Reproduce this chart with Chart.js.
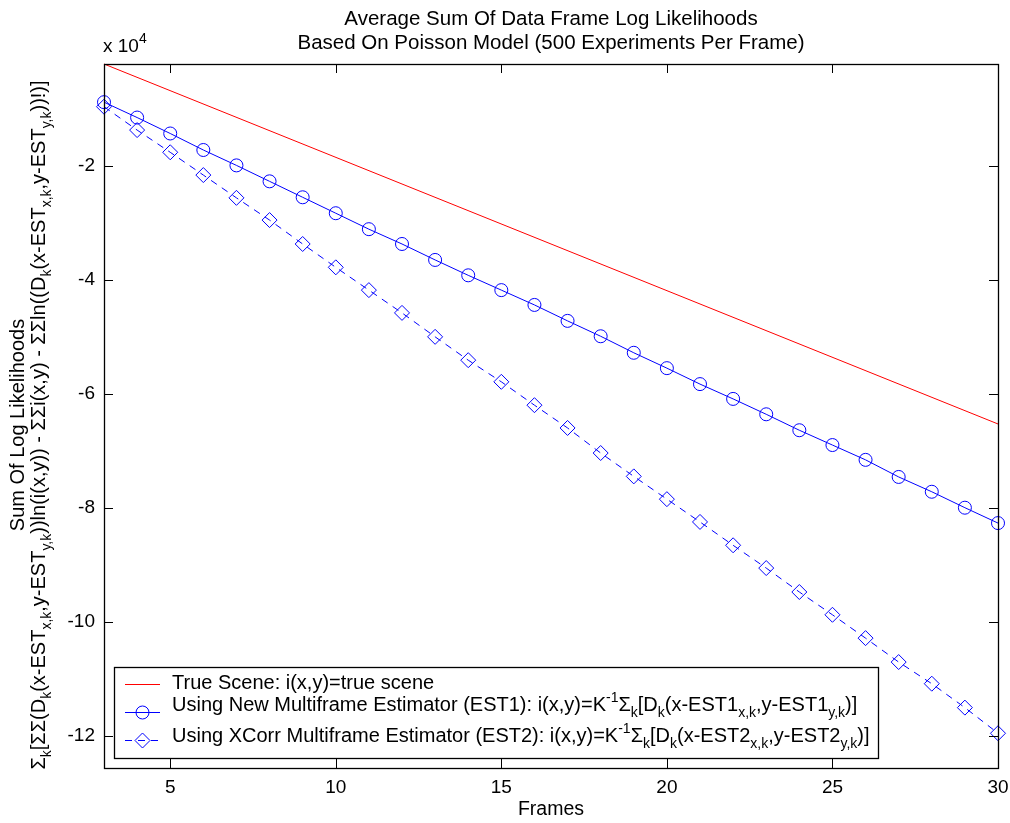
<!DOCTYPE html>
<html>
<head>
<meta charset="utf-8">
<script src="https://cdn.jsdelivr.net/npm/chart.js@4/dist/chart.umd.min.js"></script>
<style>
  html, body { margin: 0; padding: 0; background: #ffffff; }
  #wrap { width: 1010px; height: 823px; }
</style>
</head>
<body>
<div id="wrap"><canvas id="c" width="1010" height="823"></canvas></div>
<script>
// ---- data (values in units of 10^4) ----
const frames = [3,4,5,6,7,8,9,10,11,12,13,14,15,16,17,18,19,20,21,22,23,24,25,26,27,28,29,30];
const est1 = [-0.88,-1.15,-1.43,-1.72,-1.99,-2.27,-2.55,-2.83,-3.11,-3.37,-3.65,-3.92,-4.18,-4.44,-4.72,-4.99,-5.28,-5.55,-5.83,-6.09,-6.36,-6.64,-6.90,-7.16,-7.46,-7.72,-8.00,-8.27];
const est2 = [-0.96,-1.37,-1.76,-2.16,-2.56,-2.95,-3.37,-3.78,-4.18,-4.58,-5.00,-5.41,-5.79,-6.20,-6.60,-7.04,-7.45,-7.85,-8.25,-8.66,-9.06,-9.48,-9.88,-10.29,-10.71,-11.09,-11.51,-11.96];
const trueFrames = [3, 30];
const trueScene = [-0.21, -6.53];
const xTicks = [5, 10, 15, 20, 25, 30];
const yTicks = [-12, -10, -8, -6, -4, -2];
const xRange = [3, 30];
const yRange = [-12.57, -0.21];

const FONT = "'Liberation Sans', Arial, Helvetica, sans-serif";
const FS = 19;      // tick labels
const FS_T = 20.5;  // title
const FS_L = 20;    // legend and y label
const FS_X = 19.5;  // x label

const toXY = (xs, ys) => xs.map((x, i) => ({x: x, y: ys[i]}));

// rich text: parts = [[text, mode]] mode 0 normal, 1 sub, 2 sup
function richWidth(ctx, parts, size) {
  let w = 0;
  for (const [t, m] of parts) {
    ctx.font = (m ? Math.round(size * 0.72) : size) + 'px ' + FONT;
    w += ctx.measureText(t).width;
  }
  return w;
}
function drawRich(ctx, x, y, parts, size, align) {
  const w = richWidth(ctx, parts, size);
  let cx = align === 'center' ? x - w / 2 : x;
  ctx.textBaseline = 'alphabetic';
  ctx.textAlign = 'left';
  for (const [t, m] of parts) {
    const s = m ? Math.round(size * 0.72) : size;
    ctx.font = s + 'px ' + FONT;
    const dy = m === 1 ? size * 0.32 : (m === 2 ? -size * 0.45 : 0);
    ctx.fillText(t, cx, y + dy);
    cx += ctx.measureText(t).width;
  }
}

const titleLines = ['Average Sum Of Data Frame Log Likelihoods', 'Based On Poisson Model (500 Experiments Per Frame)'];
const xLabel = 'Frames';
const yLabel1 = 'Sum Of Log Likelihoods';
const yLabel2 = [['\u03A3', 0], ['k', 1], ['[\u03A3\u03A3(D', 0], ['k', 1], ['(x-EST', 0], ['x,k', 1], [',y-EST', 0], ['y,k', 1],
  ['))ln(i(x,y)) - \u03A3\u03A3i(x,y) - \u03A3\u03A3ln((D', 0], ['k', 1], ['(x-EST', 0], ['x,k', 1], [',y-EST', 0], ['y,k', 1], ['))!)]', 0]];
const legendRows = [
  [['True Scene: i(x,y)=true scene', 0]],
  [['Using New Multiframe Estimator (EST1): i(x,y)=K', 0], ['-1', 2], ['\u03A3', 0], ['k', 1], ['[D', 0], ['k', 1], ['(x-EST1', 0], ['x,k', 1], [',y-EST1', 0], ['y,k', 1], [')]', 0]],
  [['Using XCorr Multiframe Estimator (EST2): i(x,y)=K', 0], ['-1', 2], ['\u03A3', 0], ['k', 1], ['[D', 0], ['k', 1], ['(x-EST2', 0], ['x,k', 1], [',y-EST2', 0], ['y,k', 1], [')]', 0]]
];

const decor = {
  id: 'decor',
  afterDatasetsDraw(chart) {
    const ctx = chart.ctx;
    const a = chart.chartArea;
    const xs = chart.scales.x, ys = chart.scales.y;
    ctx.save();
    // frame
    ctx.strokeStyle = '#000';
    ctx.lineWidth = 1.3;
    ctx.strokeRect(a.left + 0.5, a.top + 0.5, a.right - a.left, a.bottom - a.top);
    // inward ticks on all sides
    const TL = 9;
    ctx.beginPath();
    for (const t of xTicks) {
      const px = Math.round(xs.getPixelForValue(t)) + 0.5;
      ctx.moveTo(px, a.bottom); ctx.lineTo(px, a.bottom - TL);
      ctx.moveTo(px, a.top); ctx.lineTo(px, a.top + TL);
    }
    for (const t of yTicks) {
      const py = Math.round(ys.getPixelForValue(t)) + 0.5;
      ctx.moveTo(a.left, py); ctx.lineTo(a.left + TL, py);
      ctx.moveTo(a.right, py); ctx.lineTo(a.right - TL, py);
    }
    ctx.lineWidth = 1;
    ctx.stroke();

    ctx.fillStyle = '#000';
    // title
    const cx = (a.left + a.right) / 2;
    ctx.font = FS_T + 'px ' + FONT;
    ctx.textAlign = 'center';
    ctx.textBaseline = 'alphabetic';
    ctx.fillText(titleLines[0], cx, 25);
    ctx.fillText(titleLines[1], cx, 49);
    // x label
    ctx.font = FS_X + 'px ' + FONT;
    ctx.fillText(xLabel, cx, 815);
    // exponent
    drawRich(ctx, a.left - 1, 52, [['x 10', 0], ['4', 2]], FS, 'left');
    // y label
    const cy = 425;
    ctx.save();
    ctx.translate(24, cy);
    ctx.rotate(-Math.PI / 2);
    ctx.font = FS_L + 'px ' + FONT;
    ctx.textAlign = 'center';
    ctx.fillText(yLabel1, 0, 0);
    ctx.restore();
    ctx.save();
    ctx.translate(45, cy);
    ctx.rotate(-Math.PI / 2);
    drawRich(ctx, 0, 0, yLabel2, FS_L, 'center');
    ctx.restore();

    // legend box
    const L = {l: 114, t: 667, r: 878, b: 758};
    ctx.fillStyle = '#fff';
    ctx.fillRect(L.l, L.t, L.r - L.l, L.b - L.t);
    ctx.strokeStyle = '#000';
    ctx.lineWidth = 1.3;
    ctx.strokeRect(L.l + 0.5, L.t + 0.5, L.r - L.l, L.b - L.t);
    const sampleY = [684, 712, 740];
    const textY = [689, 711, 742];
    chart.data.datasets.forEach((ds, i) => {
      ctx.save();
      ctx.strokeStyle = ds.borderColor;
      ctx.lineWidth = ds.borderWidth;
      ctx.setLineDash(ds.borderDash || []);
      ctx.beginPath();
      ctx.moveTo(125, sampleY[i] + 0.5);
      ctx.lineTo(160, sampleY[i] + 0.5);
      ctx.stroke();
      ctx.setLineDash([]);
      if (ds.pointRadius > 0) {
        ctx.strokeStyle = ds.pointBorderColor;
        ctx.fillStyle = 'rgba(0,0,0,0)';
        ctx.lineWidth = 1;
        Chart.helpers.drawPoint(ctx, {pointStyle: ds.pointStyle, radius: ds.pointRadius, rotation: 0, borderWidth: 1}, 142.5, sampleY[i] + 0.5);
      }
      ctx.restore();
      ctx.fillStyle = '#000';
      drawRich(ctx, 172, textY[i], legendRows[i], FS_L, 'left');
    });
    ctx.restore();
  }
};

new Chart(document.getElementById('c'), {
  type: 'line',
  data: {
    datasets: [
      {
        label: 'True Scene: i(x,y)=true scene',
        data: toXY(trueFrames, trueScene),
        borderColor: '#ff0000', borderWidth: 1, pointRadius: 0, fill: false, clip: false
      },
      {
        label: 'Using New Multiframe Estimator (EST1)',
        data: toXY(frames, est1),
        borderColor: '#0000ff', borderWidth: 1,
        pointStyle: 'circle', pointRadius: 6.5, pointBorderColor: '#0000ff',
        pointBackgroundColor: 'rgba(0,0,0,0)', pointBorderWidth: 1, fill: false, clip: false
      },
      {
        label: 'Using XCorr Multiframe Estimator (EST2)',
        data: toXY(frames, est2),
        borderColor: '#0000ff', borderWidth: 1, borderDash: [7, 6],
        pointStyle: 'rectRot', pointRadius: 7.5, pointBorderColor: '#0000ff',
        pointBackgroundColor: 'rgba(0,0,0,0)', pointBorderWidth: 1, fill: false, clip: false
      }
    ]
  },
  options: {
    responsive: false,
    animation: false,
    events: [],
    layout: { padding: { left: 0, top: 64, right: 12, bottom: 0 } },
    plugins: { legend: { display: false }, tooltip: { enabled: false }, title: { display: false } },
    scales: {
      x: {
        type: 'linear', min: xRange[0], max: xRange[1],
        afterBuildTicks: s => { s.ticks = xTicks.map(v => ({value: v})); },
        afterFit: s => { s.height = 55; s.paddingLeft = 0; s.paddingRight = 0; },
        grid: { display: false, drawTicks: false },
        border: { display: false },
        ticks: { color: '#000', font: { family: FONT, size: FS }, padding: 8, autoSkip: false, maxRotation: 0 }
      },
      y: {
        type: 'linear', min: yRange[0], max: yRange[1],
        afterBuildTicks: s => { s.ticks = yTicks.map(v => ({value: v})); },
        afterFit: s => { s.width = 104; s.paddingTop = 0; s.paddingBottom = 0; },
        grid: { display: false, drawTicks: false },
        border: { display: false },
        ticks: { color: '#000', font: { family: FONT, size: FS }, padding: 9 }
      }
    }
  },
  plugins: [decor]
});
</script>
</body>
</html>
